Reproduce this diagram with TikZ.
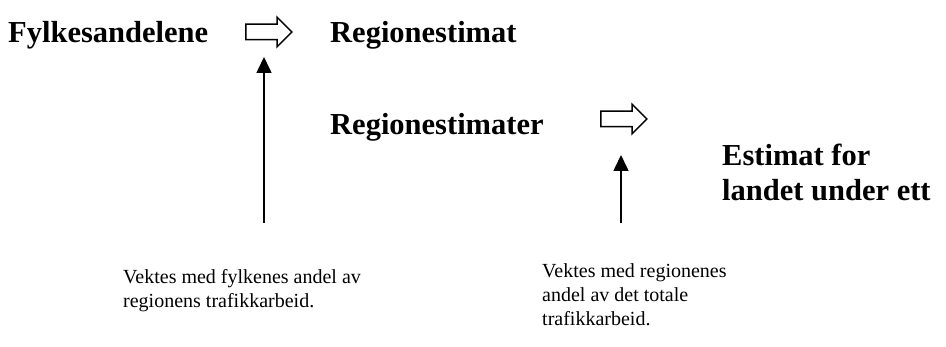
\documentclass[tikz,border=0pt]{standalone}
\usepackage{fontspec}
\setmainfont{Liberation Serif}
\usetikzlibrary{arrows.meta,shapes.arrows}
\begin{document}
\begin{tikzpicture}[x=1pt,y=1pt,
  big/.style={font=\fontsize{30.5}{35}\selectfont\bfseries, inner sep=0pt, align=left},
  small/.style={font=\fontsize{20}{24}\selectfont, inner sep=0pt, align=left},
  blockarrow/.style={single arrow, draw, line width=1.5pt, inner sep=7pt,
    minimum height=46pt, single arrow head extend=7pt, single arrow tip angle=90},
  weight/.style={line width=1.6pt, -{Triangle[width=15pt,length=16pt]}}]
\useasboundingbox (0,0) rectangle (946,-347);
\node[big, anchor=base west] (fylke) at (8,-43) {Fylkesandelene};
\node[big, anchor=base west] (reg) at (330,-43) {Regionestimat};
\node[big, anchor=base west] (regs) at (330,-135) {Regionestimater};
\node[big, anchor=north west] (land) at (722,-144) {Estimat for\\landet under ett};
\node[blockarrow] (ba1) at (265,-32) {};
\node[blockarrow] (ba2) at (620,-119) {};
\node[small, anchor=north west] (t1) at (123,-269) {Vektes med fylkenes andel av\\regionens trafikkarbeid.};
\node[small, anchor=north west] (t2) at (542,-263) {Vektes med regionenes\\andel av det totale\\trafikkarbeid.};
\coordinate (s1) at (264,-223);
\coordinate (e1) at (264,-57);
\coordinate (s2) at (621,-223);
\coordinate (e2) at (621,-155);
\draw[weight] (s1) -- (e1);
\draw[weight] (s2) -- (e2);
\end{tikzpicture}
\end{document}
